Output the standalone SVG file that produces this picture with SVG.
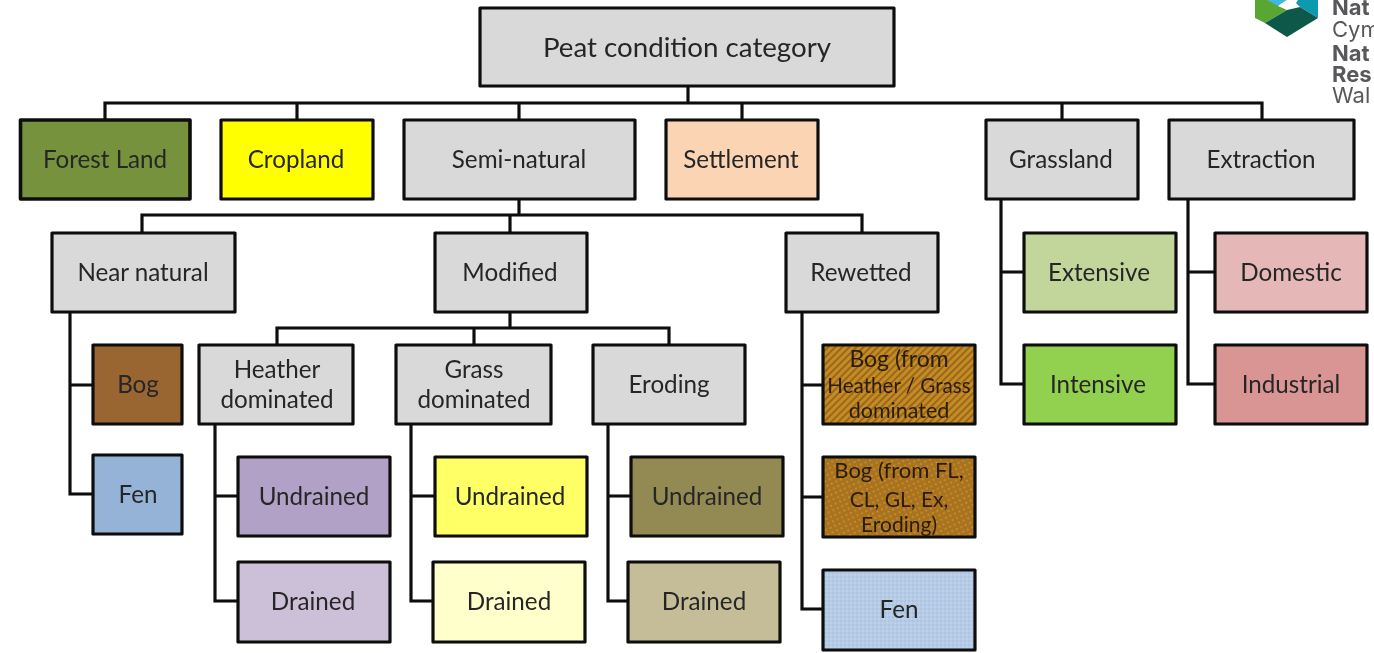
<svg xmlns="http://www.w3.org/2000/svg" width="1374" height="653" viewBox="0 0 1374 653">
<style>
.b{stroke:#0d0d0d;stroke-width:3.2;stroke-linejoin:round}
.g{fill:#d9d9d9}
text{font-family:"Lato","Open Sans","Liberation Sans",sans-serif;font-size:24.2px;fill:#262626;text-anchor:middle}
.l{font-family:"Inter","Open Sans",sans-serif;font-size:22px;fill:#58595b;text-anchor:start}
.lb{font-weight:700}
.s{font-size:21.5px;fill:#2a1c08}
#connectors path{fill:none;stroke:#0d0d0d;stroke-width:3.2}
</style>
<defs>
<filter id="soft" filterUnits="userSpaceOnUse" x="0" y="0" width="1374" height="653"><feGaussianBlur stdDeviation="0.45"/></filter>
<pattern id="h1" width="5" height="5" patternUnits="userSpaceOnUse" patternTransform="rotate(-45)">
<rect width="5" height="5" fill="#c48c22"/><rect width="5" height="2" fill="#9a681e"/>
</pattern>
<pattern id="h2" width="7" height="7" patternUnits="userSpaceOnUse" patternTransform="rotate(20)">
<rect width="7" height="7" fill="#a87222"/><circle cx="2" cy="2" r="1" fill="#cf981c"/><circle cx="5.5" cy="5.5" r="1" fill="#cf981c"/>
</pattern>
<pattern id="h3" width="4" height="4" patternUnits="userSpaceOnUse">
<rect width="4" height="4" fill="#b5cbe6"/><circle cx="1" cy="1" r=".8" fill="#a5bcd9"/><circle cx="3" cy="3" r=".8" fill="#c6d8ee"/>
</pattern>
</defs>
<rect width="1374" height="653" fill="#fff"/>
<g filter="url(#soft)">
<g id="logo">
<polygon points="1255,0 1255,18 1265,23 1287,10 1270,0" fill="#5aa632"/>
<polygon points="1267,0 1278,6 1287,0" fill="#3db7e4"/>
<polygon points="1278,6 1287,10 1296,3 1290,0 1287,0" fill="#ffffff"/>
<polygon points="1298,0 1318,0 1318,18 1300,7 1296,3" fill="#0f9ab0"/>
<polygon points="1265,23 1287,10 1300,7 1318,18 1287,37" fill="#11594a"/>
<text class="l lb" x="1332" y="15">Nat</text>
<text class="l" x="1332" y="37">Cym</text>
<text class="l lb" x="1332" y="61">Nat</text>
<text class="l lb" x="1332" y="82">Res</text>
<text class="l" x="1332" y="103">Wal</text>
</g>
<g id="connectors">
<path d="M688 86V103M105 120V103H1262V120M297 103V120M519 103V120M742 103V120M1062 103V120"/>
<path d="M519 199V215M142 233V215H862V233M510 215V233"/>
<path d="M510 312V328M277 345V328H669V345M474 328V345"/>
<path d="M70 312V494H93M70 385H93"/>
<path d="M215 424V601H238M215 496H238"/>
<path d="M411 424V601H433M411 496H435"/>
<path d="M608 424V601H628M608 496H631"/>
<path d="M802 312V609H823M802 385H823M802 497H823"/>
<path d="M1001 199V384H1024M1001 272H1024"/>
<path d="M1188 199V384H1215M1188 272H1215"/>
</g>
<g id="root"><rect class="b g" x="480" y="8" width="414" height="78"/><text x="687" y="56.5" style="font-size:27.7px">Peat condition category</text></g>
<g id="forest"><rect class="b" x="20.5" y="120" width="169.5" height="79" fill="#76923c" style="stroke-width:3.6"/><text x="105" y="167.5">Forest Land</text></g>
<g id="cropland"><rect class="b" x="221" y="120" width="152" height="79" fill="#ffff00"/><text x="296" y="167.5">Cropland</text></g>
<g id="seminatural"><rect class="b g" x="404" y="120" width="231" height="79"/><text x="519" y="167.5">Semi-natural</text></g>
<g id="settlement"><rect class="b" x="666" y="120" width="152" height="79" fill="#fbd4b4"/><text x="741" y="167.5">Settlement</text></g>
<g id="grassland"><rect class="b g" x="986" y="120" width="152" height="79"/><text x="1061" y="167.5">Grassland</text></g>
<g id="extraction"><rect class="b g" x="1169" y="120" width="185" height="79"/><text x="1261" y="167.5">Extraction</text></g>
<g id="nearnatural"><rect class="b g" x="52" y="233" width="183" height="79"/><text x="143" y="280.5">Near natural</text></g>
<g id="modified"><rect class="b g" x="435" y="233" width="152" height="79"/><text x="510" y="280.5">Modified</text></g>
<g id="rewetted"><rect class="b g" x="786" y="233" width="152" height="79"/><text x="861" y="280.5">Rewetted</text></g>
<g id="extensive"><rect class="b" x="1024" y="233" width="152" height="79" fill="#c2d69b"/><text x="1099" y="280.5">Extensive</text></g>
<g id="intensive"><rect class="b" x="1024" y="345" width="152" height="79" fill="#92d050"/><text x="1098" y="392.5">Intensive</text></g>
<g id="domestic"><rect class="b" x="1215" y="233" width="152" height="79" fill="#e5b8b7"/><text x="1291" y="280.5">Domestic</text></g>
<g id="industrial"><rect class="b" x="1215" y="345" width="152" height="79" fill="#d99594"/><text x="1291" y="392.5">Industrial</text></g>
<g id="nn-bog"><rect class="b" x="93" y="345" width="89" height="79" fill="#996633"/><text x="138" y="392.5">Bog</text></g>
<g id="nn-fen"><rect class="b" x="93" y="455" width="89" height="79" fill="#95b3d7"/><text x="138" y="502.5">Fen</text></g>
<g id="heather"><rect class="b g" x="199" y="345" width="154" height="79"/><text x="277" y="377.5">Heather</text><text x="277" y="407.5">dominated</text></g>
<g id="grass"><rect class="b g" x="396" y="345" width="155" height="79"/><text x="474" y="377.5">Grass</text><text x="474" y="407.5">dominated</text></g>
<g id="eroding"><rect class="b g" x="593" y="345" width="152" height="79"/><text x="669" y="392.5">Eroding</text></g>
<g id="h-und"><rect class="b" x="238" y="457" width="152" height="79" fill="#b2a1c7"/><text x="314" y="504.5">Undrained</text></g>
<g id="h-dr"><rect class="b" x="238" y="562" width="152" height="80" fill="#ccc0d9"/><text x="313" y="609.5">Drained</text></g>
<g id="g-und"><rect class="b" x="435" y="457" width="152" height="79" fill="#ffff66"/><text x="510" y="504.5">Undrained</text></g>
<g id="g-dr"><rect class="b" x="433" y="562" width="152" height="80" fill="#ffffcc"/><text x="509" y="609.5">Drained</text></g>
<g id="e-und"><rect class="b" x="631" y="457" width="152" height="79" fill="#938953"/><text x="707" y="504.5">Undrained</text></g>
<g id="e-dr"><rect class="b" x="628" y="562" width="152" height="80" fill="#c4bd97"/><text x="704" y="609.5">Drained</text></g>
<g id="r-bog1"><rect class="b" x="823" y="345" width="152" height="79" fill="url(#h1)"/><text class="s" x="899" y="367" style="font-size:23px">Bog (from</text><text class="s" x="899" y="393" style="font-size:20.6px">Heather / Grass</text><text class="s" x="899" y="418">dominated</text></g>
<g id="r-bog2"><rect class="b" x="823" y="457" width="152" height="80" fill="url(#h2)"/><text class="s" x="899" y="478" style="font-size:22px">Bog (from FL,</text><text class="s" x="899" y="507" style="font-size:21px">CL, GL, Ex,</text><text class="s" x="899" y="532" style="font-size:21px">Eroding)</text></g>
<g id="r-fen"><rect class="b" x="823" y="570" width="152" height="80" fill="url(#h3)"/><text x="899" y="617.5">Fen</text></g>
</g>
</svg>
